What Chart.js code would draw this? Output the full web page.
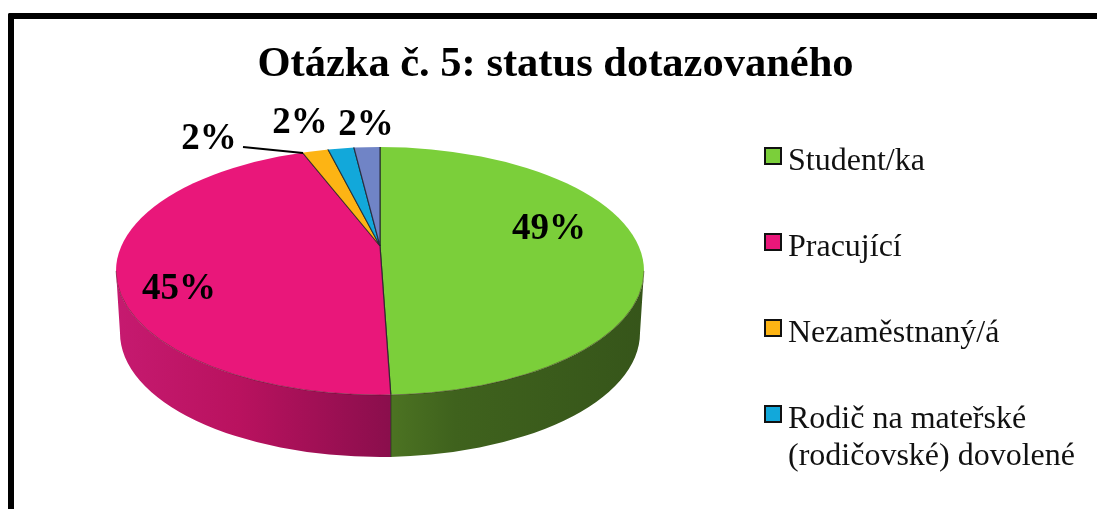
<!DOCTYPE html>
<html lang="cs">
<head>
<meta charset="utf-8">
<script src="https://cdn.jsdelivr.net/npm/chart.js@4"></script>
<style>
html,body{margin:0;padding:0;background:#fff;width:1097px;height:509px;overflow:hidden}
#frame{position:absolute;left:8px;top:13px;width:1083px;height:490px;border-top:6px solid #000;border-left:6px solid #000;border-top-left-radius:2px;overflow:hidden;background:#fff}
#frame canvas{position:absolute;left:0;top:0}
#legend{position:absolute;left:750px;top:122px;font:32px/37px "Liberation Serif",serif;color:#111}
.row{display:flex;align-items:flex-start;margin-bottom:49px;white-space:nowrap}
.box{width:14px;height:14px;border:2px solid #111;margin:6px 6px 0 0;flex:none}
</style>
</head>
<body>
<div id="frame">
<canvas id="c" width="1083" height="490"></canvas>
<div id="legend"></div>
</div>
<script>
const titleText = "Otázka č. 5: status dotazovaného";
const categories = ["Student/ka", "Pracující", "Nezaměstnaný/á", "Rodič na mateřské (rodičovské) dovolené", "Jiné"];
const legendLines = [["Student/ka"], ["Pracující"], ["Nezaměstnaný/á"], ["Rodič na mateřské", "(rodičovské) dovolené"]];
const values = [49.45, 44.55, 2, 2, 2];
const colors = ["#7bcf3a", "#e9177a", "#fdb414", "#12a8da", "#7084c6"];
const wallStops = [
  [[0, "#4c7322"], [0.25, "#3f621d"], [1, "#36551a"]],
  [[0, "#c61a70"], [0.45, "#b9125f"], [1, "#8a0e4c"]]
];
// geometry in canvas pixels (page minus frame offset)
const face = {cx: 366, cy: 252, rx: 264, ry: 124, depth: 62, rx2: 260};
const apex = {x: 366, y: 227, squash: 0.477, reach: 420};
const labelSpots = [[535, 210], [165, 270], [195, 120], [286, 104], [352, 106]];
const leader = [[229, 128], [289, 134]];

function rimX(angle) {
  const dx = Math.cos(angle), dy = Math.sin(angle) * apex.squash;
  const ox = apex.x - face.cx, oy = apex.y - face.cy;
  const A = dx*dx/(face.rx*face.rx) + dy*dy/(face.ry*face.ry);
  const B = 2*(ox*dx/(face.rx*face.rx) + oy*dy/(face.ry*face.ry));
  const C = ox*ox/(face.rx*face.rx) + oy*oy/(face.ry*face.ry) - 1;
  const t = (-B + Math.sqrt(B*B - 4*A*C)) / (2*A);
  return apex.x + t*dx;
}

const pie3d = {
  id: "pie3d",
  beforeDatasetsDraw(chart) {
    const ctx = chart.ctx, f = face;
    const arcs = chart.getDatasetMeta(0).data;
    const split = rimX(arcs[0].endAngle);
    const wall = () => {
      ctx.beginPath();
      ctx.ellipse(f.cx, f.cy, f.rx, f.ry, 0, 0, Math.PI);
      ctx.ellipse(f.cx, f.cy + f.depth, f.rx2, f.ry, 0, Math.PI, 0, true);
      ctx.closePath();
    };
    const parts = [[split, f.cx + f.rx + 2, wallStops[0]], [f.cx - f.rx - 2, split, wallStops[1]]];
    parts.forEach(([x0, x1, stops]) => {
      ctx.save();
      ctx.beginPath();
      ctx.rect(x0, 0, x1 - x0, chart.height);
      ctx.clip();
      const g = ctx.createLinearGradient(x0, 0, x1, 0);
      stops.forEach(s => g.addColorStop(s[0], s[1]));
      ctx.fillStyle = g;
      wall();
      ctx.fill();
      ctx.restore();
    });
    ctx.strokeStyle = "rgba(20,20,20,.7)";
    ctx.lineWidth = 1;
    ctx.beginPath();
    ctx.moveTo(split, f.cy + f.ry);
    ctx.lineTo(split, f.cy + f.ry + f.depth);
    ctx.stroke();
    // top face: the library's arcs, seen at an angle and trimmed to the rim
    const el = arcs[0];
    const k = apex.reach / el.outerRadius;
    ctx.save();
    ctx.beginPath();
    ctx.ellipse(f.cx, f.cy, f.rx, f.ry, 0, 0, Math.PI * 2);
    ctx.clip();
    ctx.translate(apex.x, apex.y);
    ctx.scale(k, k * apex.squash);
    ctx.translate(-el.x, -el.y);
  },
  afterDatasetsDraw(chart) {
    const ctx = chart.ctx, f = face;
    ctx.restore();
    ctx.strokeStyle = "rgba(60,30,30,.45)";
    ctx.lineWidth = 1;
    ctx.beginPath();
    ctx.ellipse(f.cx, f.cy, f.rx, f.ry, 0, 0, Math.PI);
    ctx.stroke();
    ctx.strokeStyle = "#000";
    ctx.lineWidth = 2;
    ctx.beginPath();
    ctx.moveTo(leader[0][0], leader[0][1]);
    ctx.lineTo(leader[1][0], leader[1][1]);
    ctx.stroke();
    ctx.fillStyle = "#000";
    ctx.font = 'bold 37px "Liberation Serif", serif';
    ctx.textAlign = "center";
    ctx.textBaseline = "middle";
    values.forEach((v, i) => {
      ctx.fillText(Math.round(v) + "%", labelSpots[i][0], labelSpots[i][1]);
    });
  }
};

new Chart(document.getElementById("c"), {
  type: "pie",
  data: {
    labels: categories,
    datasets: [{
      data: values,
      backgroundColor: colors,
      borderColor: "rgba(30,30,40,.75)",
      borderWidth: 0.6,
      clip: false
    }]
  },
  options: {
    responsive: false,
    animation: false,
    layout: {padding: 0},
    plugins: {
      legend: {display: false},
      tooltip: {enabled: false},
      title: {
        display: true,
        text: titleText,
        color: "#000",
        font: {family: '"Liberation Serif", serif', size: 42.5, weight: "bold", lineHeight: 1.2},
        padding: {top: 21, bottom: 10}
      }
    }
  },
  plugins: [pie3d]
});

const legendEl = document.getElementById("legend");
legendLines.forEach((lines, i) => {
  const row = document.createElement("div");
  row.className = "row";
  const box = document.createElement("span");
  box.className = "box";
  box.style.background = colors[i];
  const txt = document.createElement("span");
  lines.forEach((l, j) => {
    if (j) txt.appendChild(document.createElement("br"));
    txt.appendChild(document.createTextNode(l));
  });
  row.appendChild(box);
  row.appendChild(txt);
  legendEl.appendChild(row);
});
</script>
</body>
</html>
